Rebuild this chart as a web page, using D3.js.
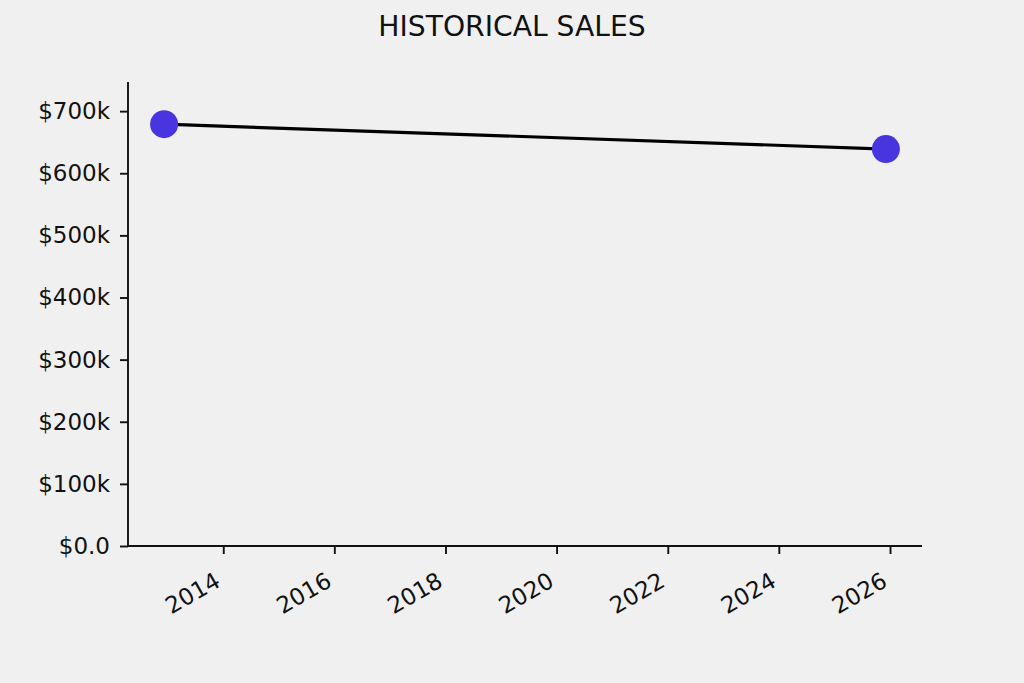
<!DOCTYPE html>
<html><head><meta charset="utf-8">
<script src="https://cdn.jsdelivr.net/npm/d3@7"></script>
<style>
html,body{margin:0;padding:0;background:#f0f0f0;}
svg{display:block;font-family:"DejaVu Sans",sans-serif;}
</style></head>
<body>
<svg id="c" width="1024" height="683"></svg>
<script>
const title = "HISTORICAL SALES";
const dates = ["2012-12-08", "2025-12-05"];
const sales = [679000, 639000];
const yTicks = [0, 100000, 200000, 300000, 400000, 500000, 600000, 700000];
const xTickYears = [2014, 2016, 2018, 2020, 2022, 2024, 2026];

(function () {
const svg = d3.select("#c");
const mLeft = 128, mRight = 922, mTop = 82, mBottom = 546;
const parse = d3.timeParse("%Y-%m-%d");
const pts = dates.map((d, i) => ({date: parse(d), value: sales[i]}));

const t0 = +pts[0].date, t1 = +pts[pts.length - 1].date, span = t1 - t0;
const x = d3.scaleTime().domain([new Date(t0 - 0.05 * span), new Date(t1 + 0.05 * span)]).range([mLeft, mRight]);
const y = d3.scaleLinear().domain([0, d3.max(sales) * 1.1]).range([mBottom, mTop]);

svg.append("text").attr("x", 512).attr("y", 36).attr("text-anchor", "middle")
  .attr("font-size", 28.2).attr("fill", "#111").text(title);

const fmt = v => v === 0 ? "$0.0" : "$" + (v / 1000) + "k";

const yAxis = d3.axisLeft(y).tickValues(yTicks).tickFormat(fmt).tickSize(8).tickPadding(10);
const gy = svg.append("g").attr("transform", `translate(${mLeft},0)`).call(yAxis);
gy.select(".domain").attr("stroke", "#111").attr("stroke-width", 1.9).attr("d", `M0,${mBottom}V${mTop}`);
gy.selectAll(".tick line").attr("stroke", "#111").attr("stroke-width", 1.9);
gy.selectAll(".tick text").attr("font-size", 23).attr("fill", "#111").attr("font-family", "DejaVu Sans");

const xAxis = d3.axisBottom(x).tickValues(xTickYears.map(yr => new Date(yr, 0, 1)))
  .tickFormat(d3.timeFormat("%Y")).tickSize(8);
const gx = svg.append("g").attr("transform", `translate(0,${mBottom})`).call(xAxis);
gx.select(".domain").attr("stroke", "#111").attr("stroke-width", 1.9).attr("d", `M${mLeft},0H${mRight}`);
gx.selectAll(".tick line").attr("stroke", "#111").attr("stroke-width", 1.9);
gx.selectAll(".tick text").attr("font-size", 23).attr("fill", "#111").attr("font-family", "DejaVu Sans")
  .attr("text-anchor", "end").attr("y", 0).attr("dy", "0.72em")
  .attr("transform", "translate(-10,25) rotate(-30)");

const line = d3.line().x(d => x(d.date)).y(d => y(d.value));
svg.append("path").datum(pts).attr("d", line).attr("fill", "none")
  .attr("stroke", "#000").attr("stroke-width", 3.2);

svg.selectAll("circle.pt").data(pts).enter().append("circle").attr("class", "pt")
  .attr("cx", d => x(d.date)).attr("cy", d => y(d.value)).attr("r", 14)
  .attr("fill", "#4935df");
})();
</script>
</body></html>
